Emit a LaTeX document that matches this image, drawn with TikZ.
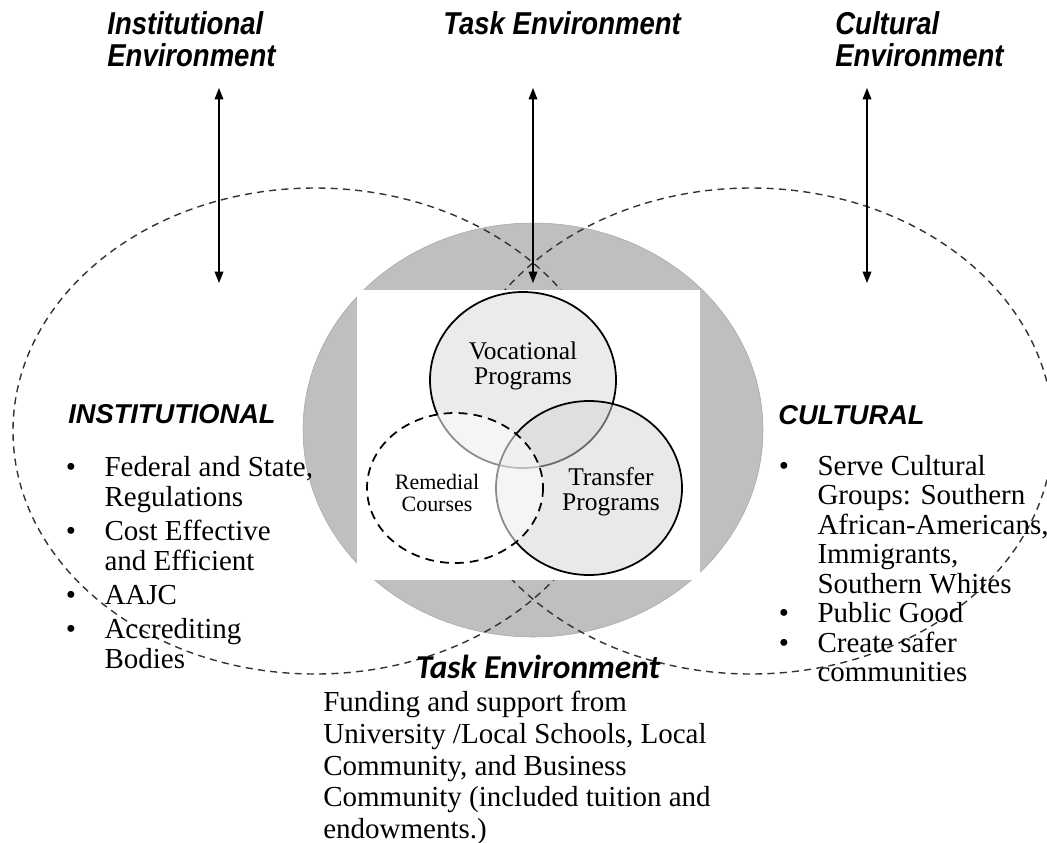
\documentclass[tikz,border=0pt]{standalone}
\usepackage{fontspec}
\setmainfont{Liberation Serif}
\newfontfamily\headfont{Liberation Sans}
\newfontfamily\calfont{Carlito}
\usetikzlibrary{arrows.meta}
\colorlet{coregray}{black!25}
\colorlet{lite}{black!8}
% narrow sans titles, stacked lines
\newcommand{\narrowhead}[1]{\scalebox{0.87}[1]{\begin{tabular}{@{}l@{}}#1\end{tabular}}}
\newcommand{\bdot}{\hspace{2pt}\textbullet}

\tikzset{
  envhead/.style={inner sep=0pt, font=\headfont\bfseries\itshape\fontsize{18}{17}\selectfont},
  bighead/.style={inner sep=0pt, font=\headfont\bfseries\itshape\fontsize{15.5}{17}\selectfont},
  listtext/.style={inner sep=0pt, align=left, font=\fontsize{16.5}{17.5}\selectfont},
  venntxt/.style={inner sep=0pt, align=center, font=\fontsize{14.5}{14}\selectfont},
  ring/.style={draw=black!80, line width=0.8pt, dash pattern=on 4pt off 3pt},
  twoway/.style={line width=0.7pt, {Triangle[length=6.5pt,width=5pt]}-{Triangle[length=6.5pt,width=5pt]}}
}

\begin{document}
\begin{tikzpicture}[x=0.02cm, y=-0.02cm]
  \useasboundingbox (0,0) rectangle (1047,842);

  % environment titles
  \node (instenv) [envhead, anchor=north west] at (107,11) {\narrowhead{Institutional\\Environment}};
  \node (taskenv) [envhead, anchor=north west] at (443,11) {\narrowhead{Task Environment}};
  \node (cultenv) [envhead, anchor=north west] at (835,11) {\narrowhead{Cultural\\Environment}};

  % grey core
  \fill [coregray] (533,430) ellipse [x radius=230, y radius=207];
  \draw [black!35, line width=0.3pt] (533,430) ellipse [x radius=230, y radius=207];

  % outer environments
  \draw [ring] (315,431) ellipse [x radius=302, y radius=243];
  \draw [ring] (751,431) ellipse [x radius=302, y radius=243];

  % arrows
  \foreach \name/\x in {inst/219, task/533, cult/867} {
    \coordinate (\name top) at (\x,88);
    \coordinate (\name bot) at (\x,283);
    \draw [twoway] (\name top) -- (\name bot);
  }

  % programs
  \fill [white] (357,290) rectangle (700,580);
  \draw [fill=lite, line width=1pt] (523,380) ellipse [x radius=93, y radius=88];
  \path [fill=black!17, fill opacity=0.5, draw=black, line width=1pt] (589,488) ellipse [x radius=93, y radius=87];
  \path [fill=white, fill opacity=0.55, draw=black, line width=1pt, dash pattern=on 5pt off 3.5pt] (455,488) ellipse [x radius=88, y radius=75];

  \node (voc) [venntxt] at (523,366) {Vocational\\Programs};
  \node (trans) [venntxt] at (611,492) {Transfer\\Programs};
  \node (rem) [venntxt, font=\fontsize{12.5}{13}\selectfont] at (437,493) {Remedial\\Courses};

  % side blocks
  \node (inst) [bighead, anchor=west] at (68,414) {INSTITUTIONAL};
  \node (instlist) [listtext, anchor=north west, font=\fontsize{16.5}{17}\selectfont] at (62,455) {%
    \begin{tabular}{@{}p{24pt}@{}l@{}}
      \bdot & Federal and State,\\
            & Regulations\\[2.5pt]
      \bdot & Cost Effective\\
            & and Efficient\\[2.5pt]
      \bdot & AAJC\\[2.5pt]
      \bdot & Accrediting\\
            & Bodies
    \end{tabular}};

  \node (cult) [bighead, anchor=west] at (778,415) {CULTURAL};
  \node (cultlist) [listtext, anchor=north west, font=\fontsize{16.5}{16.8}\selectfont] at (775,454) {%
    \begin{tabular}{@{}p{24pt}@{}l@{}}
      \bdot & Serve Cultural\\
            & Groups: Southern\\
            & African-Americans,\\
            & Immigrants,\\
            & Southern Whites\\
      \bdot & Public Good\\
      \bdot & Create safer\\
            & communities
    \end{tabular}};

  % task environment
  \node (task) [inner sep=0pt, font=\calfont\bfseries\itshape\fontsize{19}{20}\selectfont] at (538,667) {Task Environment};
  \node (tasktext) [listtext, anchor=north west, font=\fontsize{16.5}{18}\selectfont] at (323,691) {%
    Funding and support from\\University /Local Schools, Local\\Community, and Business\\Community (included tuition and\\endowments.)};
\end{tikzpicture}
\end{document}
